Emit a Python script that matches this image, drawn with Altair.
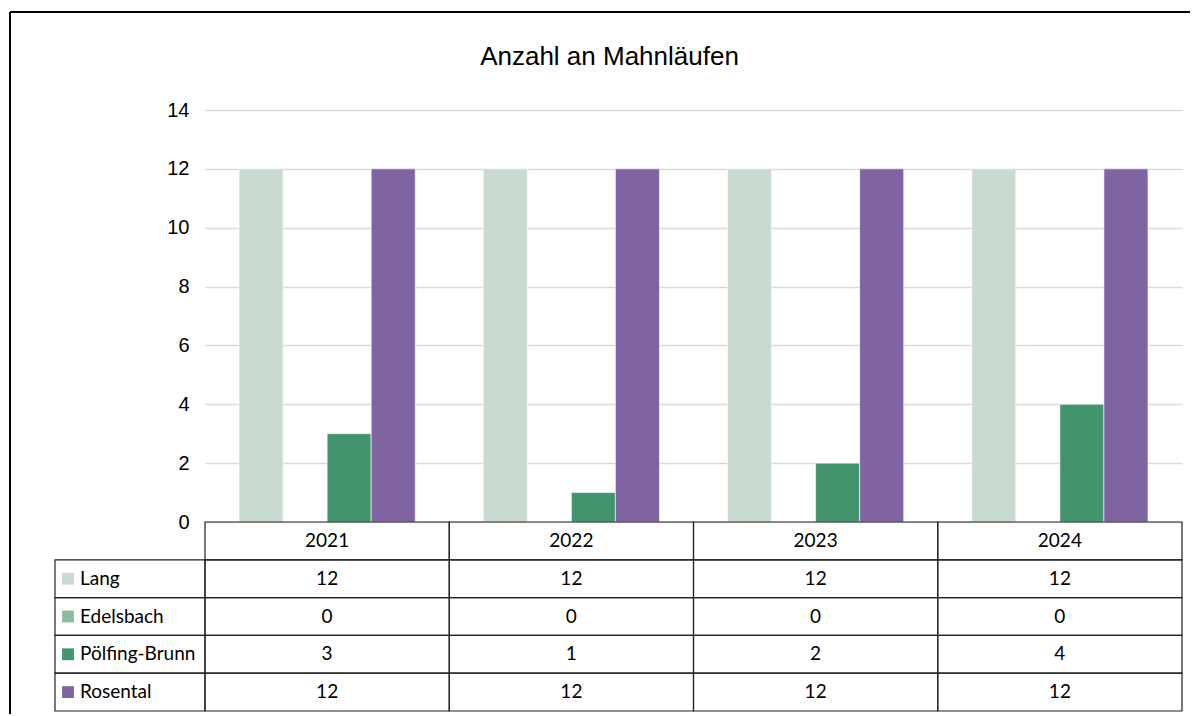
import altair as alt
import pandas as pd

# ---- data ----
years = ["2021", "2022", "2023", "2024"]
series = ["Lang", "Edelsbach", "Pölfing-Brunn", "Rosental"]
lang = [12, 12, 12, 12]
edelsbach = [0, 0, 0, 0]
poelfing_brunn = [3, 1, 2, 4]
rosental = [12, 12, 12, 12]
colors = ["#C9DBD0", "#8FBC9F", "#43936F", "#8064A2"]
y_ticks = [0, 2, 4, 6, 8, 10, 12, 14]
title_text = "Anzahl an Mahnläufen"

values_by_series = {
    "Lang": lang,
    "Edelsbach": edelsbach,
    "Pölfing-Brunn": poelfing_brunn,
    "Rosental": rosental,
}

records = []
for s in series:
    for i, yr in enumerate(years):
        records.append({"year": yr, "series": s, "row": s, "value": values_by_series[s][i]})
df = pd.DataFrame(records)
header_df = pd.DataFrame({"year": years, "row": ["header"] * len(years)})
label_df = pd.DataFrame({"row": series})

# ---- layout constants ----
W, H = 977, 412
TABLE_TOP, TABLE_BOTTOM = 412, 601
NARROW = "Liberation Sans, Arial, sans-serif"
TABLE_FONT = "Lato, Carlito, Open Sans, sans-serif"
LINE = "#222222"

color_scale = alt.Scale(domain=series, range=colors)
x_scale = alt.Scale(domain=years, paddingInner=0, paddingOuter=0)

bars = alt.Chart(df).mark_bar(stroke="white", strokeWidth=0.6).encode(
    x=alt.X("year:N", scale=x_scale, axis=None),
    xOffset=alt.XOffset("series:N", scale=alt.Scale(domain=series, paddingInner=0, paddingOuter=0.7727)),
    y=alt.Y(
        "value:Q",
        scale=alt.Scale(domain=[0, 14]),
        axis=alt.Axis(
            values=y_ticks,
            title=None,
            domain=False,
            ticks=False,
            labelFont=NARROW,
            labelFontSize=20,
            labelColor="#000000",
            labelPadding=16,
            gridColor="#D9D9D9",
            gridWidth=1.5,
        ),
    ),
    color=alt.Color("series:N", scale=color_scale, legend=None),
)

row_scale = alt.Scale(
    domain=["header"] + series, range=[TABLE_TOP, TABLE_BOTTOM], paddingInner=0, paddingOuter=0
)
y_row = alt.Y("row:N", scale=row_scale, axis=None)

value_cells = alt.Chart(df).mark_rect(fillOpacity=0, stroke=LINE, strokeWidth=1.2).encode(
    x=alt.X("year:N", scale=x_scale, axis=None), y=y_row
)
header_cells = alt.Chart(header_df).mark_rect(fillOpacity=0, stroke=LINE, strokeWidth=1.2).encode(
    x=alt.X("year:N", scale=x_scale, axis=None), y=y_row
)
label_cells = alt.Chart(label_df).mark_rect(fillOpacity=0, stroke=LINE, strokeWidth=1.2).encode(
    x=alt.value(-150), x2=alt.value(0), y=y_row
)
value_text = alt.Chart(df).mark_text(font=TABLE_FONT, fontSize=19, color="#000000", baseline="middle").encode(
    x=alt.X("year:N", scale=x_scale, axis=None), y=y_row, text="value:Q"
)
header_text = alt.Chart(header_df).mark_text(font=TABLE_FONT, fontSize=19, color="#000000", baseline="middle").encode(
    x=alt.X("year:N", scale=x_scale, axis=None), y=y_row, text="year:N"
)
label_text = alt.Chart(label_df).mark_text(
    font=TABLE_FONT, fontSize=19, color="#000000", align="left", baseline="middle"
).encode(x=alt.value(-125), y=y_row, text="row:N")
swatches = alt.Chart(label_df).mark_square(size=140, opacity=1, filled=True).encode(
    x=alt.value(-137), y=y_row, color=alt.Color("row:N", scale=color_scale, legend=None)
)
border_top = alt.Chart(label_df).mark_rule(color="#000000", strokeWidth=1.5).encode(
    x=alt.value(-195), x2=alt.value(990), y=alt.value(-98)
)
border_left = alt.Chart(label_df).mark_rule(color="#000000", strokeWidth=1.5).encode(
    x=alt.value(-195), y=alt.value(-98), y2=alt.value(615)
)

table = alt.layer(
    value_cells, header_cells, label_cells, value_text, header_text, label_text, swatches, border_top, border_left
)

chart = (
    alt.layer(bars, table)
    .resolve_scale(y="independent")
    .properties(
        width=W,
        height=H,
        autosize=alt.AutoSizeParams(type="none"),
        padding={"left": 197, "top": 102, "right": 8, "bottom": 192},
        title=alt.Title(
            title_text,
            font=NARROW,
            fontSize=26,
            fontWeight="normal",
            color="#000000",
            anchor="middle",
            baseline="alphabetic",
            dx=-84,
            dy=80,
            offset=0,
        ),
    )
    .configure_view(stroke=None)
)

chart.save("out.html", embed_options={"renderer": "svg", "actions": False})
